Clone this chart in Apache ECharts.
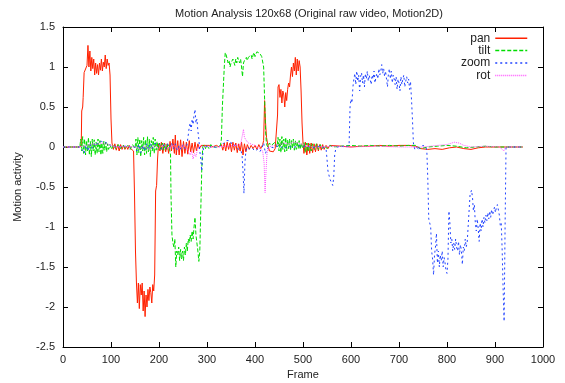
<!DOCTYPE html>
<html>
<head>
<meta charset="utf-8">
<script src="https://cdn.jsdelivr.net/npm/echarts@6/dist/echarts.min.js"></script>
<style>
  html, body { margin: 0; padding: 0; background: #fff; }
  #chart { width: 565px; height: 383px; }
</style>
</head>
<body>
<div id="chart"></div>
<script>
// [frame, value] pairs
const panData = [
  [0, 0], [35, 0], [38, 0.03], [39, 0.45], [41, 0.5], [42, 0.62], [44, 0.93], [46, 0.95], [48, 0.93], [50, 1.02],
  [52, 1.27], [54, 1.0], [56, 1.2], [58, 0.95], [60, 1.12], [62, 0.98], [64, 1.1], [66, 0.9], [68, 1.05], [70, 0.92],
  [72, 1.03], [74, 0.9], [76, 1.05], [78, 0.96], [80, 1.1], [82, 0.95], [84, 1.06], [86, 1.0], [88, 1.15], [90, 0.98],
  [92, 1.1], [94, 1.02], [96, 1.05], [98, 0.9], [100, 0.35], [102, 0.05], [105, -0.03], [108, 0.04], [111, -0.04],
  [114, 0.03], [117, -0.05], [120, 0.03], [123, -0.03], [126, 0.02], [129, -0.03], [132, 0.01], [135, -0.03],
  [138, 0.02], [141, -0.02], [145, 0], [147, -0.05], [149, -0.6], [151, -1.3], [153, -1.7], [155, -1.95], [157, -1.7],
  [159, -2.02], [161, -1.72], [163, -1.85], [165, -1.7], [167, -2.05], [169, -1.8], [171, -2.12], [173, -1.85],
  [175, -2.0], [177, -1.78], [179, -1.92], [181, -1.75], [183, -1.82], [185, -1.95], [187, -1.72], [189, -1.8],
  [191, -1.6], [193, -0.55], [195, -0.48], [197, -0.15], [199, 0.04], [202, -0.05], [205, 0.06], [208, -0.08],
  [211, 0.05], [214, -0.06], [217, 0.04], [220, -0.08], [223, 0.07], [226, -0.05], [229, 0.1], [232, -0.08],
  [234, 0.15], [236, -0.1], [239, 0.08], [242, -0.1], [245, 0.09], [248, -0.12], [251, 0.07], [254, -0.08],
  [257, 0.06], [260, -0.09], [263, 0.08], [266, -0.06], [269, 0.05], [272, -0.07], [275, 0.06], [278, -0.05],
  [281, 0.04], [284, -0.02], [288, 0.02], [292, 0], [296, 0.02], [300, 0], [305, 0.02], [310, 0], [315, 0.01],
  [320, 0.02], [325, 0], [330, 0.03], [333, -0.04], [336, 0.05], [339, -0.05], [342, 0.06], [345, -0.03],
  [348, 0.05], [351, -0.06], [354, 0.06], [357, -0.04], [360, 0.05], [363, -0.07], [366, 0.04], [369, -0.05],
  [372, 0.06], [375, -0.1], [378, 0.04], [381, -0.06], [384, 0.03], [388, -0.03], [392, 0.02], [396, -0.02],
  [400, 0.02], [404, -0.03], [408, 0.03], [412, -0.02], [416, 0.03], [418, 0.08], [420, 0.58], [422, 0.3],
  [424, 0.12], [426, 0.05], [430, -0.05], [434, -0.03], [438, -0.06], [442, -0.02], [446, 0], [447, 0.4],
  [448, 0.75], [450, 0.78], [452, 0.62], [454, 0.72], [456, 0.55], [458, 0.7], [460, 0.65], [462, 0.5],
  [464, 0.68], [466, 0.58], [468, 0.72], [470, 0.8], [472, 0.75], [474, 0.9], [476, 1.0], [478, 0.88],
  [480, 1.05], [482, 0.95], [484, 1.12], [486, 0.9], [488, 1.1], [490, 0.95], [492, 1.08], [494, 1.0],
  [496, 0.7], [498, 0.3], [500, 0.05], [502, -0.08], [505, 0.06], [508, -0.1], [511, 0.05], [514, -0.08],
  [517, 0.05], [520, -0.07], [523, 0.04], [526, -0.06], [529, 0.04], [532, -0.05], [535, 0.03], [538, -0.04],
  [541, 0.03], [544, -0.03], [548, 0.02], [552, -0.02], [556, 0.02], [560, 0], [580, 0.01], [600, 0],
  [620, 0.01], [640, 0.01], [660, 0.02], [680, 0.01], [700, 0.02], [720, 0.02], [735, 0.01], [745, -0.02],
  [760, -0.03], [775, -0.02], [790, -0.03], [805, -0.01], [820, 0], [835, -0.02], [850, -0.03], [865, -0.01],
  [880, 0], [900, 0], [920, 0], [940, 0], [958, 0]
]

const tiltData = [
  [0, 0], [35, 0], [37, 0.1], [39, -0.05], [41, 0.13], [43, -0.08], [45, 0.1], [47, -0.1], [49, 0.08], [51, -0.05],
  [53, 0.12], [55, -0.1], [57, 0.07], [59, -0.12], [61, 0.1], [63, -0.05], [65, 0.09], [67, -0.1], [69, 0.06],
  [71, -0.08], [73, 0.1], [75, -0.06], [77, 0.08], [79, -0.1], [81, 0.05], [83, -0.08], [85, 0.07], [87, -0.04],
  [89, 0.06], [91, -0.06], [93, 0.04], [95, -0.03], [98, 0.03], [101, -0.03], [105, 0.03], [110, -0.02],
  [115, 0.03], [120, -0.02], [125, 0.03], [130, -0.02], [135, 0.02], [140, -0.03], [145, 0.03], [150, -0.02],
  [152, 0.1], [154, -0.1], [156, 0.12], [158, -0.07], [160, 0.1], [162, -0.12], [164, 0.08], [166, -0.05],
  [168, 0.12], [170, -0.1], [172, 0.09], [174, -0.08], [176, 0.13], [178, -0.06], [180, 0.1], [182, -0.12],
  [184, 0.08], [186, -0.05], [188, 0.12], [190, -0.08], [192, 0.1], [194, -0.04], [196, 0.07], [198, -0.03],
  [201, 0.05], [204, -0.03], [207, 0.05], [210, -0.04], [213, 0.04], [216, -0.03], [219, 0.03], [222, -0.02],
  [224, -0.1], [225, -0.6], [227, -1.1], [229, -1.2], [231, -1.25], [233, -1.15], [235, -1.5], [237, -1.3],
  [239, -1.35], [241, -1.25], [243, -1.42], [245, -1.28], [247, -1.4], [249, -1.3], [251, -1.42], [253, -1.25],
  [255, -1.35], [257, -1.2], [259, -1.3], [261, -1.15], [263, -1.2], [265, -1.1], [267, -1.18], [269, -1.05],
  [271, -1.15], [273, -1.0], [275, -0.88], [277, -1.1], [279, -1.2], [281, -1.3], [283, -1.43], [285, -1.3],
  [287, -0.8], [289, -0.3], [291, 0], [294, 0.03], [297, -0.02], [300, 0.02], [304, -0.02], [308, 0.03],
  [312, 0], [316, 0.02], [320, 0], [324, 0.02], [328, 0.02], [330, 0.1], [332, 0.5], [334, 0.75], [336, 1.0],
  [338, 1.18], [340, 1.15], [342, 1.1], [344, 1.05], [346, 1.08], [348, 1.0], [350, 1.05], [352, 1.03],
  [354, 1.1], [356, 1.08], [358, 1.02], [360, 1.1], [362, 1.05], [364, 1.12], [366, 1.08], [368, 1.05],
  [370, 1.1], [372, 1.0], [374, 0.88], [376, 1.05], [378, 1.08], [380, 1.1], [382, 1.12], [384, 1.08],
  [386, 1.12], [388, 1.1], [390, 1.12], [392, 1.15], [394, 1.1], [396, 1.15], [398, 1.18], [400, 1.13],
  [402, 1.16], [404, 1.19], [406, 1.18], [408, 1.2], [410, 1.17], [412, 1.15], [414, 1.13], [416, 1.12],
  [418, 1.0], [420, 0.6], [422, 0.2], [424, 0.03], [427, 0], [430, 0.05], [434, 0.02], [438, 0.03], [442, 0.06],
  [446, 0], [448, 0.12], [450, -0.05], [452, 0.1], [454, -0.07], [456, 0.13], [458, -0.03], [460, 0.1],
  [462, -0.06], [464, 0.12], [466, -0.05], [468, 0.09], [470, -0.02], [472, 0.1], [474, -0.04], [476, 0.08],
  [478, -0.02], [480, 0.1], [482, -0.04], [484, 0.08], [486, -0.03], [488, 0.07], [490, -0.02], [492, 0.08],
  [494, -0.03], [496, 0.05], [499, -0.02], [502, 0.06], [505, -0.07], [508, 0.05], [511, -0.06], [514, 0.04],
  [517, -0.05], [520, 0.04], [524, -0.03], [528, 0.04], [532, -0.03], [536, 0.03], [540, -0.02], [545, 0.02],
  [550, -0.02], [556, 0.02], [562, 0], [580, 0.01], [600, 0.02], [620, 0.01], [640, 0.02], [660, 0.01],
  [680, 0.02], [700, 0.01], [720, 0.02], [735, 0.02], [745, -0.02], [760, 0], [780, 0.01], [800, 0.02],
  [820, 0.01], [840, -0.01], [860, 0], [880, 0.01], [900, 0], [920, 0], [940, 0], [958, 0]
]

const zoomData = [
  [0, 0], [35, 0], [40, -0.03], [44, -0.08], [48, 0.02], [52, -0.05], [56, 0.03], [60, -0.02], [64, 0.04],
  [68, 0.01], [72, 0.05], [76, 0.03], [80, 0.07], [84, 0.05], [88, 0.06], [92, 0.07], [96, 0.03], [100, 0.01],
  [105, 0], [110, 0.01], [120, 0], [130, 0.01], [140, 0], [150, 0], [154, -0.05], [158, 0.03], [162, -0.07],
  [166, 0.02], [170, -0.05], [174, 0.04], [178, -0.03], [182, 0.05], [186, -0.02], [190, 0.04], [194, 0.02],
  [198, 0.05], [202, 0.02], [206, -0.03], [210, 0.03], [214, -0.02], [218, 0.04], [222, 0], [226, 0.05],
  [230, -0.02], [234, 0.04], [238, -0.04], [242, 0.02], [246, -0.03], [250, 0.03], [254, -0.02], [258, 0.02],
  [261, 0.15], [263, 0.25], [265, 0.3], [267, 0.2], [269, 0.35], [271, 0.28], [273, 0.4], [275, 0.47],
  [277, 0.3], [279, 0.35], [281, 0.2], [283, 0.1], [285, -0.05], [287, -0.15], [289, -0.3], [291, -0.1],
  [293, 0], [297, -0.02], [300, 0.01], [305, -0.01], [310, 0.01], [315, 0], [320, -0.01], [325, 0],
  [330, 0.02], [335, 0.05], [340, 0.08], [344, 0.06], [348, 0.08], [352, 0.03], [356, 0.05], [360, 0.02],
  [364, -0.02], [368, 0], [371, -0.05], [373, -0.1], [375, -0.3], [377, -0.58], [379, -0.2], [381, -0.05],
  [385, 0], [390, -0.03], [395, -0.02], [400, -0.05], [405, -0.03], [410, -0.06], [414, -0.02], [418, 0.05],
  [420, -0.02], [422, -0.08], [425, -0.02], [430, 0], [440, -0.01], [450, 0.02], [460, -0.02], [470, 0.01],
  [480, -0.01], [490, 0.02], [500, 0], [510, 0.01], [520, -0.01], [530, 0.01], [540, 0], [548, -0.02],
  [550, -0.15], [552, -0.3], [554, -0.35], [556, -0.4], [558, -0.38], [560, -0.42], [562, -0.48], [564, -0.38],
  [566, -0.1], [568, -0.03], [572, 0], [580, 0.01], [590, 0], [596, 0.02], [598, 0.5], [600, 0.6], [602, 0.55],
  [604, 0.75], [606, 0.85], [608, 0.92], [610, 0.78], [612, 0.95], [614, 0.82], [616, 0.9], [618, 0.7],
  [620, 0.88], [622, 0.93], [624, 0.8], [626, 0.9], [628, 0.75], [630, 0.92], [632, 0.85], [634, 0.95],
  [636, 0.82], [638, 0.9], [640, 0.88], [642, 0.78], [644, 0.9], [646, 0.85], [648, 0.95], [650, 0.8],
  [652, 0.88], [654, 0.92], [656, 0.85], [658, 0.98], [660, 0.9], [662, 0.95], [664, 1.03], [666, 0.92],
  [668, 0.98], [670, 0.88], [672, 0.95], [674, 0.85], [676, 0.75], [678, 0.92], [680, 0.98], [682, 0.85],
  [684, 0.95], [686, 0.8], [688, 0.9], [690, 0.85], [692, 0.78], [694, 0.88], [696, 0.72], [698, 0.85],
  [700, 0.8], [702, 0.7], [704, 0.88], [706, 0.78], [708, 0.85], [710, 0.9], [712, 0.75], [714, 0.82],
  [716, 0.88], [718, 0.8], [720, 0.85], [722, 0.72], [724, 0.82], [726, 0.6], [728, 0.35], [730, 0.05],
  [733, -0.03], [737, 0], [740, -0.04], [744, 0], [750, 0.02], [756, 0], [758, -0.05], [760, -0.4],
  [762, -0.9], [764, -0.95], [766, -1.0], [768, -1.3], [770, -1.4], [772, -1.6], [774, -1.35], [776, -1.25],
  [778, -1.08], [780, -1.45], [782, -1.3], [784, -1.5], [786, -1.35], [788, -1.42], [790, -1.3], [792, -1.5],
  [794, -1.38], [796, -1.45], [798, -1.55], [800, -1.58], [802, -1.4], [804, -0.8], [806, -0.95], [808, -1.2],
  [810, -1.15], [812, -1.3], [814, -1.2], [816, -1.28], [818, -1.15], [820, -1.25], [822, -1.3], [824, -1.18],
  [826, -1.35], [828, -1.22], [830, -1.3], [832, -1.47], [834, -1.25], [836, -1.3], [838, -1.15], [840, -1.25],
  [842, -1.2], [845, -0.9], [848, -0.6], [851, -0.54], [853, -0.62], [855, -0.8], [857, -0.72], [859, -0.95],
  [861, -1.05], [863, -0.9], [865, -1.02], [867, -1.18], [869, -0.95], [871, -1.05], [873, -0.9], [875, -1.0],
  [877, -0.88], [879, -0.95], [881, -0.85], [883, -0.92], [885, -0.82], [887, -0.9], [889, -0.8], [891, -0.88],
  [893, -0.78], [895, -0.85], [897, -0.8], [899, -0.75], [901, -0.82], [903, -0.75], [905, -0.72], [907, -0.7],
  [909, -0.85], [911, -0.98], [913, -0.95], [915, -1.3], [917, -1.8], [919, -2.18], [921, -1.0], [923, 0],
  [926, -0.02], [930, 0], [958, 0]
]

const rotData = [
  [0, 0], [35, 0], [40, 0.01], [50, 0.02], [60, 0.04], [70, 0.03], [80, 0.05], [90, 0.04], [100, 0.02],
  [110, 0], [130, 0.01], [150, 0], [160, -0.02], [170, 0.01], [180, -0.03], [190, 0.02], [200, -0.02],
  [210, 0.03], [220, -0.02], [230, 0.02], [240, -0.03], [250, 0.02], [260, -0.04], [265, -0.1], [268, -0.05],
  [271, -0.15], [274, -0.08], [277, -0.12], [280, -0.03], [285, 0.02], [290, 0], [300, 0.01], [320, 0],
  [340, 0.01], [360, 0.02], [370, 0.03], [374, 0.05], [376, 0.22], [378, 0.12], [382, 0.08], [386, 0.05],
  [390, 0.03], [400, 0.02], [410, -0.02], [416, -0.05], [419, -0.2], [421, -0.57], [423, -0.3], [425, -0.08],
  [428, 0], [440, 0.02], [450, 0.03], [460, 0.05], [470, 0.04], [480, 0.06], [490, 0.05], [500, 0.03],
  [510, 0.01], [530, 0], [560, 0.01], [600, 0], [650, 0.01], [700, 0], [750, 0], [780, 0.02], [800, 0.03],
  [815, 0.06], [825, 0.05], [835, 0.02], [850, 0], [880, 0.01], [910, 0], [918, -0.05], [922, 0], [958, 0]
]

const seriesNames = ['pan', 'tilt', 'zoom', 'rot']
const xTicks = { min: 0, max: 1000, step: 100 }
const yTicks = { min: -2.5, max: 1.5, step: 0.5 }

const font = 'Liberation Sans, Arial, sans-serif'
const textColor = '#222'
const colors = ['#ff2000', '#00dd00', '#2244ff', '#ff55ff']
const dashes = ['solid', [4, 2], [2, 3], [1, 1]]

let myChart = echarts.init(document.getElementById('chart'))

// axis shared parts, ticks pointing inward like gnuplot
function axisBase (ticks, show) {
  return {
    type: 'value',
    min: ticks.min,
    max: ticks.max,
    interval: ticks.step,
    axisLine: { show: true, onZero: false, lineStyle: { color: '#000', width: 1 } },
    axisTick: { show: true, inside: true, length: 5, lineStyle: { color: '#000' } },
    axisLabel: {
      show: show,
      color: textColor,
      fontSize: 11,
      fontFamily: font,
      formatter: v => String(v) // no thousands separator
    },
    splitLine: { show: false }
  }
}

function lineSeries (i, data) {
  return {
    name: seriesNames[i],
    type: 'line',
    data: data,
    symbol: 'none',
    animation: false,
    lineStyle: { color: colors[i], width: 1, type: dashes[i] },
    itemStyle: { color: colors[i] }
  }
}

let xMain = axisBase(xTicks, true)
xMain.position = 'bottom'
xMain.name = 'Frame'
xMain.nameLocation = 'middle'
xMain.nameGap = 21
xMain.nameTextStyle = { color: textColor, fontSize: 11, fontFamily: font }
xMain.axisLabel.margin = 7
let xTop = axisBase(xTicks, false)
xTop.position = 'top'

let yMain = axisBase(yTicks, true)
yMain.position = 'left'
yMain.name = 'Motion activity'
yMain.nameLocation = 'middle'
yMain.nameGap = 40
yMain.nameTextStyle = { color: textColor, fontSize: 11, fontFamily: font }
yMain.axisLabel.margin = 8
let yRight = axisBase(yTicks, false)
yRight.position = 'right'

let options = {
  backgroundColor: '#fff',
  animation: false,
  title: {
    text: 'Motion Analysis 120x68 (Original raw video, Motion2D)',
    left: 304,
    top: 3,
    textAlign: 'center',
    textStyle: { color: textColor, fontSize: 11, fontWeight: 'normal', fontFamily: font }
  },
  legend: {
    // legend keys: line only, in each series' colour and dash
    data: seriesNames.map((name, i) => ({
      name: name,
      itemStyle: { opacity: 0 },
      lineStyle: { color: colors[i], width: 1.5, type: dashes[i] }
    })),
    orient: 'vertical',
    align: 'right',
    right: 37,
    top: 32,
    padding: 0,
    itemWidth: 32,
    itemHeight: 8,
    itemGap: 0,
    textStyle: { color: textColor, fontSize: 12, lineHeight: 12.4, fontFamily: font }
  },
  grid: { left: 63, right: 22, top: 27, bottom: 36, outerBoundsMode: 'none' },
  xAxis: [xMain, xTop],
  yAxis: [yMain, yRight],
  series: [
    lineSeries(0, panData),
    lineSeries(1, tiltData),
    lineSeries(2, zoomData),
    lineSeries(3, rotData)
  ]
}

myChart.setOption(options)
</script>
</body>
</html>
